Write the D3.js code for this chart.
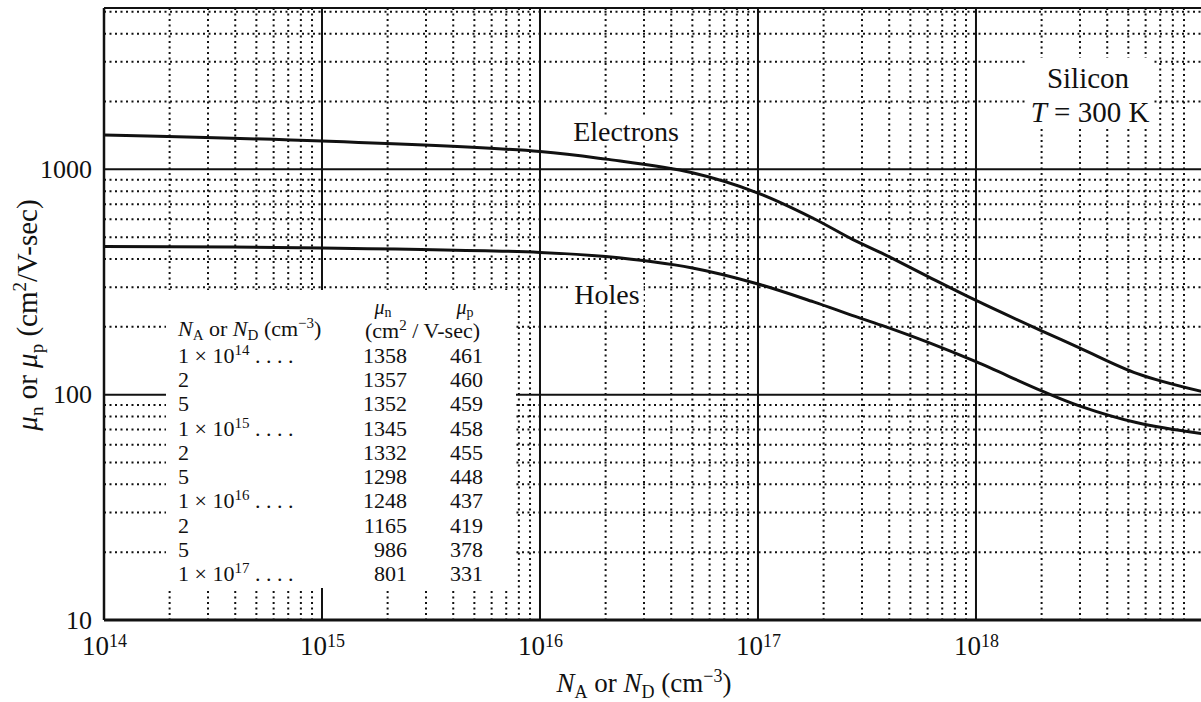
<!DOCTYPE html>
<html>
<head>
<meta charset="utf-8">
<script src="https://cdn.jsdelivr.net/npm/d3@7"></script>
<style>
  html, body { margin: 0; padding: 0; background: #fff; }
  svg { display: block; }
  text { font-family: "Liberation Serif", "DejaVu Serif", serif; fill: #111; }
</style>
</head>
<body>
<svg id="chart" width="1201" height="702"></svg>
<script>
// ---- data ----
const dopingCurve = [1e14, 1e15, 1e16, 2e16, 5e16, 1e17, 1.8e17, 2.7e17, 3.7e17, 6e17, 1e18, 2e18, 3e18, 5.5e18, 1.1e19];
const electronMobility = [1420, 1335, 1200, 1110, 965, 785, 605, 490, 425, 335, 262, 192, 161, 124, 103];
const holeMobility = [455, 448, 428, 410, 365, 310, 258, 225, 203, 171, 140, 104, 89, 75, 67];

const tableMantissa = ["1 × 10", "2", "5", "1 × 10", "2", "5", "1 × 10", "2", "5", "1 × 10"];
const tableExponent = ["14", "", "", "15", "", "", "16", "", "", "17"];
const tableMuN = [1358, 1357, 1352, 1345, 1332, 1298, 1248, 1165, 986, 801];
const tableMuP = [461, 460, 459, 458, 455, 448, 437, 419, 378, 331];

const xMajorExponents = [14, 15, 16, 17, 18];
const yMajorTicks = [10, 100, 1000];

// ---- scales ----
const svg = d3.select("#chart");
const pLeft = 104, pRight = 1203, pTop = 8, pBottom = 620;
const x = d3.scaleLog().domain([1e14, 1.1e19]).range([pLeft, pRight]);
const y = d3.scaleLog().domain([10, 5200]).range([pBottom, pTop]);

const defs = svg.append("defs");
defs.append("clipPath").attr("id", "plotclip")
  .append("rect").attr("x", pLeft).attr("y", pTop).attr("width", 1201 - pLeft).attr("height", pBottom - pTop);

const plot = svg.append("g").attr("clip-path", "url(#plotclip)");

// minor grid values
const xMinor = [];
xMajorExponents.forEach(e => { for (let k = 2; k <= 9; k++) { const v = k * Math.pow(10, e); if (v < 1e19) xMinor.push(v); } });
const yMinor = [];
[1, 2, 3].forEach(e => { for (let k = 2; k <= 9; k++) { const v = k * Math.pow(10, e); if (v <= 5200) yMinor.push(v); } });

plot.selectAll("line.xminor").data(xMinor).join("line")
  .attr("x1", d => x(d)).attr("x2", d => x(d)).attr("y1", pTop).attr("y2", pBottom)
  .attr("stroke", "#111").attr("stroke-width", 2).attr("stroke-dasharray", "2,3.5");
plot.selectAll("line.yminor").data(yMinor).join("line")
  .attr("x1", pLeft).attr("x2", 1201).attr("y1", d => y(d)).attr("y2", d => y(d))
  .attr("stroke", "#111").attr("stroke-width", 2).attr("stroke-dasharray", "2,3.5");

plot.selectAll("line.xmajor").data(xMajorExponents.slice(1).map(e => Math.pow(10, e))).join("line")
  .attr("x1", d => x(d)).attr("x2", d => x(d)).attr("y1", pTop).attr("y2", pBottom)
  .attr("stroke", "#111").attr("stroke-width", 2);
plot.selectAll("line.ymajor").data(yMajorTicks.slice(1)).join("line")
  .attr("x1", pLeft).attr("x2", 1201).attr("y1", d => y(d)).attr("y2", d => y(d))
  .attr("stroke", "#111").attr("stroke-width", 2);

// white boxes (table, labels)
plot.append("rect").attr("x", 166).attr("y", 290).attr("width", 350).attr("height", 298).attr("fill", "#fff");
plot.append("rect").attr("x", 1027).attr("y", 58).attr("width", 127).attr("height", 70).attr("fill", "#fff");

// curves
const line = d3.line().x(d => x(d[0])).y(d => y(d[1])).curve(d3.curveCatmullRom.alpha(0.5));
plot.append("path").datum(dopingCurve.map((d, i) => [d, electronMobility[i]]))
  .attr("d", line).attr("fill", "none").attr("stroke", "#111").attr("stroke-width", 3);
plot.append("path").datum(dopingCurve.map((d, i) => [d, holeMobility[i]]))
  .attr("d", line).attr("fill", "none").attr("stroke", "#111").attr("stroke-width", 3);

// curve labels
function boxedLabel(txt, cx, cy) {
  const t = plot.append("text").attr("x", cx).attr("y", cy).attr("text-anchor", "middle")
    .attr("font-size", 28).text(txt);
  const b = t.node().getBBox();
  plot.insert("rect", "text").attr("x", b.x - 4).attr("y", b.y + 2).attr("width", b.width + 8).attr("height", b.height - 4).attr("fill", "#fff");
}
boxedLabel("Electrons", 626, 141);
boxedLabel("Holes", 607, 304);

// plot border
svg.append("line").attr("x1", pLeft).attr("x2", 1201).attr("y1", pTop).attr("y2", pTop).attr("stroke", "#111").attr("stroke-width", 2);
svg.append("line").attr("x1", pLeft).attr("x2", pLeft).attr("y1", pTop).attr("y2", pBottom).attr("stroke", "#111").attr("stroke-width", 2.5);
svg.append("line").attr("x1", pLeft).attr("x2", 1201).attr("y1", pBottom).attr("y2", pBottom).attr("stroke", "#111").attr("stroke-width", 3);

// axes
const xAxis = svg.append("g").attr("transform", `translate(0,${pBottom})`)
  .call(d3.axisBottom(x).tickValues(xMajorExponents.map(e => Math.pow(10, e))).tickSize(0).tickPadding(0).tickFormat(""));
xAxis.select(".domain").remove();
xAxis.selectAll(".tick").each(function(d) {
  const e = Math.round(Math.log10(d));
  const t = d3.select(this).append("text").attr("y", 35).attr("text-anchor", "middle")
    .attr("font-size", 27).attr("fill", "#111");
  t.append("tspan").text("10");
  t.append("tspan").attr("dy", -8).attr("font-size", 18).text(String(e));
});

const yAxis = svg.append("g").attr("transform", `translate(${pLeft},0)`)
  .call(d3.axisLeft(y).tickValues(yMajorTicks).tickSize(0).tickPadding(12).tickFormat(d3.format("d")));
yAxis.select(".domain").remove();
yAxis.selectAll("text").attr("font-size", 26).attr("fill", "#111")
  .attr("font-family", "Liberation Serif, serif");

// axis titles
const xt = svg.append("text").attr("x", 644).attr("y", 692).attr("text-anchor", "middle").attr("font-size", 27);
xt.append("tspan").attr("font-style", "italic").text("N");
xt.append("tspan").attr("dy", 6).attr("font-size", 18).text("A");
xt.append("tspan").attr("dy", -6).text(" or ");
xt.append("tspan").attr("font-style", "italic").text("N");
xt.append("tspan").attr("dy", 6).attr("font-size", 18).text("D");
xt.append("tspan").attr("dy", -6).text(" (cm");
xt.append("tspan").attr("dy", -10).attr("font-size", 18).text("−3");
xt.append("tspan").attr("dy", 10).text(")");

const yt = svg.append("text").attr("transform", "translate(37,315) rotate(-90)").attr("text-anchor", "middle").attr("font-size", 29);
yt.append("tspan").attr("font-style", "italic").text("μ");
yt.append("tspan").attr("dy", 6).attr("font-size", 19).text("n");
yt.append("tspan").attr("dy", -6).text(" or ");
yt.append("tspan").attr("font-style", "italic").text("μ");
yt.append("tspan").attr("dy", 6).attr("font-size", 19).text("p");
yt.append("tspan").attr("dy", -6).text(" (cm");
yt.append("tspan").attr("dy", -11).attr("font-size", 19).text("2");
yt.append("tspan").attr("dy", 11).text("/V-sec)");

// Silicon label
svg.append("text").attr("x", 1088).attr("y", 88).attr("text-anchor", "middle").attr("font-size", 29).text("Silicon");
const tl = svg.append("text").attr("x", 1090).attr("y", 122).attr("text-anchor", "middle").attr("font-size", 29);
tl.append("tspan").attr("font-style", "italic").text("T");
tl.append("tspan").text(" = 300 K");

// table
const tb = svg.append("g").attr("font-size", 22);
const th = tb.append("text").attr("x", 178).attr("y", 336);
th.append("tspan").attr("font-style", "italic").text("N");
th.append("tspan").attr("dy", 4).attr("font-size", 15).text("A");
th.append("tspan").attr("dy", -4).text(" or ");
th.append("tspan").attr("font-style", "italic").text("N");
th.append("tspan").attr("dy", 4).attr("font-size", 15).text("D");
th.append("tspan").attr("dy", -4).text(" (cm");
th.append("tspan").attr("dy", -8).attr("font-size", 15).text("−3");
th.append("tspan").attr("dy", 8).text(")");

const hn = tb.append("text").attr("x", 383).attr("y", 314).attr("text-anchor", "middle").attr("font-size", 20);
hn.append("tspan").attr("font-style", "italic").text("μ");
hn.append("tspan").attr("dy", 3).attr("font-size", 14).text("n");
const hp = tb.append("text").attr("x", 465).attr("y", 314).attr("text-anchor", "middle").attr("font-size", 20);
hp.append("tspan").attr("font-style", "italic").text("μ");
hp.append("tspan").attr("dy", 3).attr("font-size", 14).text("p");
const hu = tb.append("text").attr("x", 365).attr("y", 338);
hu.append("tspan").text("(cm");
hu.append("tspan").attr("dy", -8).attr("font-size", 15).text("2");
hu.append("tspan").attr("dy", 8).text("  / V-sec)");

const rowY = d3.scaleLinear().domain([0, tableMantissa.length - 1]).range([363, 581]);
tableMantissa.forEach((m, i) => {
  const t = tb.append("text").attr("x", 178).attr("y", rowY(i));
  t.append("tspan").text(m);
  if (tableExponent[i]) {
    t.append("tspan").attr("dy", -8).attr("font-size", 15).text(tableExponent[i]);
    t.append("tspan").attr("dy", 8).text(" . . . .");
  }
  tb.append("text").attr("x", 407).attr("y", rowY(i)).attr("text-anchor", "end").text(tableMuN[i]);
  tb.append("text").attr("x", 483).attr("y", rowY(i)).attr("text-anchor", "end").text(tableMuP[i]);
});
</script>
</body>
</html>
